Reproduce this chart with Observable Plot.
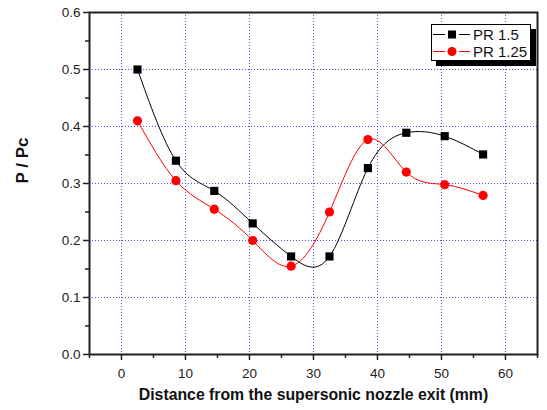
<!DOCTYPE html>
<html><head><meta charset="utf-8">
<script src="https://cdn.jsdelivr.net/npm/d3@7"></script>
<script src="https://cdn.jsdelivr.net/npm/@observablehq/plot@0.6"></script>
<style>
body{margin:0;background:#fff;font-family:"Liberation Sans",Arial,sans-serif;}
#wrap{position:relative;width:547px;height:410px;}
#legend{position:absolute;left:431px;top:24px;width:98px;height:35px;border:1px solid #000;background:#fff;box-shadow:5px 5px 0 #000;font-size:15px;}
.row{position:absolute;left:0;height:17px;width:98px;}
.row svg{position:absolute;left:1px;top:0;}
.row span{position:absolute;left:41px;top:0;line-height:17px;color:#111;}
</style></head>
<body><div id="wrap"></div>
<script>
const distance = [2.5, 8.5, 14.5, 20.5, 26.5, 32.5, 38.5, 44.5, 50.5, 56.5];
const pr150 = [0.500, 0.340, 0.287, 0.230, 0.172, 0.172, 0.327, 0.389, 0.383, 0.351];
const pr125 = [0.410, 0.305, 0.255, 0.200, 0.155, 0.250, 0.377, 0.320, 0.298, 0.279];
const seriesNames = ["PR 1.5", "PR 1.25"];
const xTicks = [0, 10, 20, 30, 40, 50, 60];
const xMinor = [-5, 5, 15, 25, 35, 45, 55, 65];
const yTicks = [0.0, 0.1, 0.2, 0.3, 0.4, 0.5, 0.6];
const yMinor = [0.05, 0.15, 0.25, 0.35, 0.45, 0.55];

const d150 = distance.map((x, i) => ({x, y: pr150[i]}));
const d125 = distance.map((x, i) => ({x, y: pr125[i]}));

const chart = Plot.plot({
  width: 547, height: 410,
  marginLeft: 89, marginRight: 10, marginTop: 12, marginBottom: 56,
  style: {fontFamily: "Liberation Sans, Arial, sans-serif", fontSize: "13px", color: "#222", background: "#fff"},
  x: {domain: [-5, 65]},
  y: {domain: [0, 0.6]},
  marks: [
    Plot.ruleX(xTicks, {x: d => d, stroke: "#3030ff", strokeOpacity: 0.85, strokeDasharray: "1,2", strokeWidth: 1}),
    Plot.ruleY(yTicks.slice(1, 6), {y: d => d, stroke: "#3030ff", strokeOpacity: 0.85, strokeDasharray: "1,2", strokeWidth: 1}),
    Plot.line(d150, {x: "x", y: "y", curve: "natural", stroke: "#000", strokeWidth: 1}),
    Plot.line(d125, {x: "x", y: "y", curve: "natural", stroke: "#ff0000", strokeWidth: 1}),
    Plot.dot(d150, {x: "x", y: "y", symbol: "square", r: 4.6, fill: "#000", stroke: null}),
    Plot.dot(d125, {x: "x", y: "y", symbol: "circle", r: 4.6, fill: "#ff0000", stroke: null}),
    Plot.axisX({ticks: xTicks, tickSize: 6, tickPadding: 8, tickFormat: d3.format("d"), strokeWidth: 1.5, label: null, fontSize: 13.5}),
    Plot.axisX({ticks: xMinor, tickSize: 4, text: null, strokeWidth: 1.5, label: null}),
    Plot.axisY({ticks: yTicks, tickSize: 6, tickPadding: 3, tickFormat: d3.format(".1f"), strokeWidth: 1.5, label: null, fontSize: 13.5}),
    Plot.axisY({ticks: yMinor, tickSize: 4, text: null, strokeWidth: 1.5, label: null}),
    Plot.frame({stroke: "#222", strokeWidth: 2}),
    Plot.text(["Distance from the supersonic nozzle exit (mm)"], {frameAnchor: "bottom", dy: 45, fontWeight: "bold", fontSize: 15.8, fill: "#111"}),
    Plot.text(["P / Pc"], {frameAnchor: "left", dx: -67, rotate: -90, fontWeight: "bold", fontSize: 17, fill: "#111"})
  ]
});
const wrap = document.getElementById("wrap");
wrap.appendChild(chart);

const legend = document.createElement("div");
legend.id = "legend";
const styles = [{color: "#000", shape: "square"}, {color: "#ff0000", shape: "circle"}];
seriesNames.forEach((name, i) => {
  const row = document.createElement("div");
  row.className = "row";
  row.style.top = (i === 0 ? 1 : 18) + "px";
  const s = styles[i];
  const marker = s.shape === "square"
    ? `<rect x="15" y="4.5" width="8" height="8" fill="${s.color}"/>`
    : `<circle cx="19" cy="8.5" r="4.5" fill="${s.color}"/>`;
  row.innerHTML = `<svg width="38" height="17"><line x1="0" x2="12" y1="8.5" y2="8.5" stroke="${s.color}"/><line x1="26" x2="37" y1="8.5" y2="8.5" stroke="${s.color}"/>${marker}</svg><span>${name}</span>`;
  legend.appendChild(row);
});
wrap.appendChild(legend);
</script></body></html>
